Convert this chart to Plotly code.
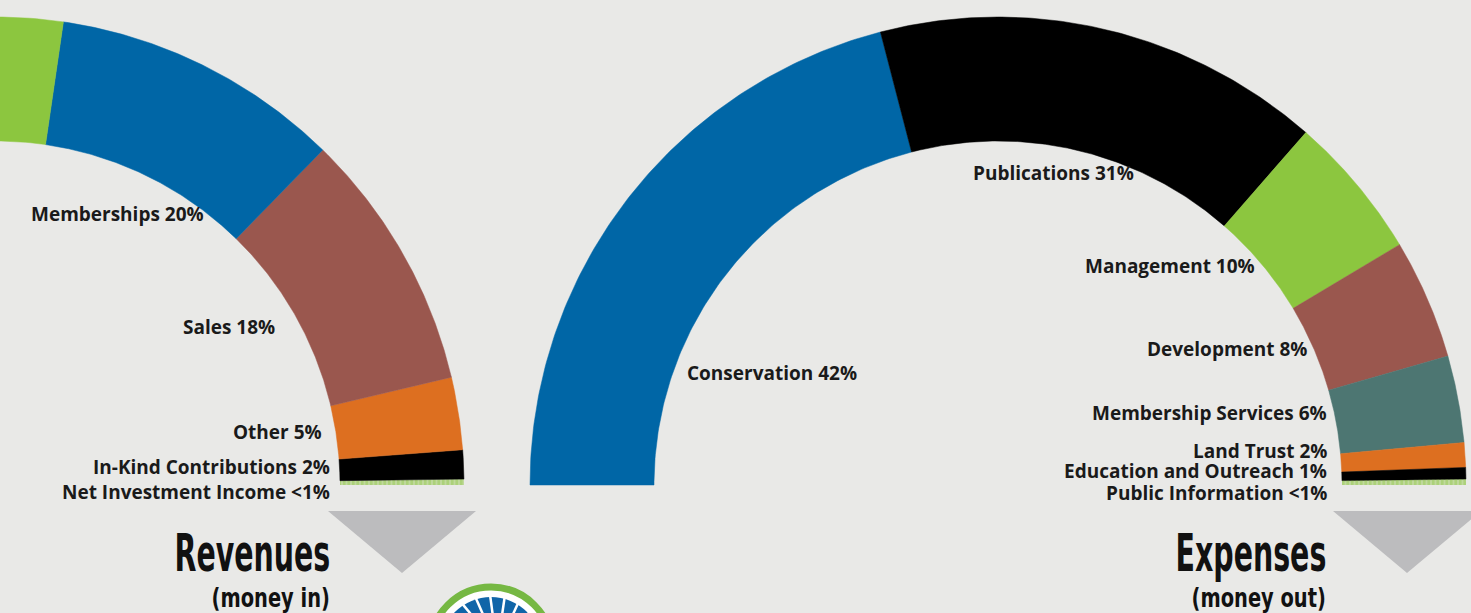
import numpy as np
import plotly.graph_objects as go

# ---------------- data ----------------
rev_categories = ["Net Investment Income", "In-Kind Contributions", "Other", "Sales", "Memberships", "Contributions & Grants"]
rev_values = [0.4, 2, 5, 18, 20, 54.6]
rev_labels = ["Net Investment Income <1%", "In-Kind Contributions 2%", "Other 5%", "Sales 18%", "Memberships 20%", ""]

exp_categories = ["Conservation", "Publications", "Management", "Development", "Membership Services",
                  "Land Trust", "Education and Outreach", "Public Information"]
exp_values = [42, 31, 10, 8.3, 6, 1.7, 0.8, 0.4]
exp_labels = ["Conservation 42%", "Publications 31%", "Management 10%", "Development 8%",
              "Membership Services 6%", "Land Trust 2%", "Education and Outreach 1%", "Public Information <1%"]

# ---------------- styles ----------------
rev_colors = ["#8cc63f", "#000000", "#dd6f20", "#9a574e", "#0066a6", "#8cc63f"]
rev_hatched = [True, False, False, False, False, False]
exp_colors = ["#0066a6", "#000000", "#8cc63f", "#9a574e", "#4d7672", "#dd6f20", "#000000", "#8cc63f"]
exp_hatched = [False, False, False, False, False, False, False, True]

# ---------------- geometry ----------------
W, H = 1471, 613
CY = 485
R_OUT, R_IN = 468, 344
REV_CX = -4
EXP_CX = 998

rev_label_pos = [(331, 492), (331, 467), (323, 432), (276, 327), (205, 214), None]
exp_label_pos = [(858, 373), (1135, 173), (1256, 266), (1308, 349), (1328, 413),
                 (1328, 451), (1328, 471), (1328, 493)]

fig = go.Figure()


def wedge(cx, a0, a1):
    t = np.radians(np.linspace(a0, a1, 120))
    xo = cx + R_OUT * np.cos(t)
    yo = CY - R_OUT * np.sin(t)
    xi = cx + R_IN * np.cos(t[::-1])
    yi = CY - R_IN * np.sin(t[::-1])
    return np.concatenate([xo, xi, xo[:1]]), np.concatenate([yo, yi, yo[:1]])


def add_donut(cx, values, colors, hatched, names, start, direction):
    total = sum(values)
    a = start
    for v, c, hz, n in zip(values, colors, hatched, names):
        span = v / total * 180.0
        a_next = a + direction * span
        xs, ys = wedge(cx, a, a_next)
        kw = dict(x=xs, y=ys, mode="lines", fill="toself", name=n, hoverinfo="name",
                  showlegend=False, line=dict(width=0 if hz else 0.5, color=c))
        if hz:
            kw["fillcolor"] = "rgba(0,0,0,0)"
            kw["fillpattern"] = dict(shape="|", fgcolor=c, bgcolor="rgba(140,198,63,0.3)",
                                     size=4.5, solidity=0.75)
        else:
            kw["fillcolor"] = c
        fig.add_trace(go.Scatter(**kw))
        a = a_next


# revenues: from right end (0 deg) going counter-clockwise
add_donut(REV_CX, rev_values, rev_colors, rev_hatched, rev_categories, 0.0, +1)
# expenses: from left end (180 deg) going clockwise
add_donut(EXP_CX, exp_values, exp_colors, exp_hatched, exp_categories, 180.0, -1)

label_font = dict(family="Open Sans", size=19, color="#1a1a1a")
annotations = []
for txt, pos in list(zip(rev_labels, rev_label_pos)) + list(zip(exp_labels, exp_label_pos)):
    if not txt or pos is None:
        continue
    annotations.append(dict(x=pos[0], y=pos[1], xref="x", yref="y", text="<b>%s</b>" % txt,
                            showarrow=False, xanchor="right", yanchor="middle", font=label_font,
                            borderpad=0))

cond = "DejaVu Sans Condensed, Liberation Sans Narrow, Roboto, sans-serif"
title_font = dict(family=cond, size=51, color="#111111")
sub_font = dict(family=cond, size=27, color="#111111")
for (tx, ty, txt, f) in [(332, 553, "Revenues", title_font), (332, 597, "(money in)", sub_font),
                         (1328, 553, "Expenses", title_font), (1328, 597, "(money out)", sub_font)]:
    annotations.append(dict(x=tx, y=ty, xref="x", yref="y", text="<b>%s</b>" % txt, showarrow=False,
                            xanchor="right", yanchor="middle", font=f))

shapes = []
# grey down arrows
for (x0, x1) in [(328, 476), (1333, 1481)]:
    xm = (x0 + x1) / 2
    shapes.append(dict(type="path", path="M %s,511 L %s,511 L %s,573 Z" % (x0, x1, xm),
                       xref="x", yref="y", fillcolor="#bcbcbe", line=dict(width=0)))

# logo (partially visible at bottom)
LX, LY = 491, 648
shapes.append(dict(type="circle", xref="x", yref="y", x0=LX - 61, x1=LX + 61, y0=LY - 61, y1=LY + 61,
                   fillcolor="#ffffff", line=dict(color="#76b843", width=7)))
shapes.append(dict(type="circle", xref="x", yref="y", x0=LX - 51, x1=LX + 51, y0=LY - 51, y1=LY + 51,
                   fillcolor="#1065a8", line=dict(width=0)))
shapes.append(dict(type="circle", xref="x", yref="y", x0=LX - 26, x1=LX + 26, y0=LY - 26, y1=LY + 26,
                   fillcolor="#ffffff", line=dict(width=0)))
for ang in np.arange(20, 170, 16):
    t = np.radians(ang)
    shapes.append(dict(type="line", xref="x", yref="y",
                       x0=LX + 26 * np.cos(t), y0=LY - 26 * np.sin(t),
                       x1=LX + 52 * np.cos(t + 0.12), y1=LY - 52 * np.sin(t + 0.12),
                       line=dict(color="#ffffff", width=2.5)))

fig.update_layout(
    width=W, height=H, margin=dict(l=0, r=0, t=0, b=0),
    paper_bgcolor="#e9e9e7", plot_bgcolor="#e9e9e7",
    xaxis=dict(range=[0, W], visible=False, fixedrange=True),
    yaxis=dict(range=[H, 0], visible=False, fixedrange=True),
    annotations=annotations, shapes=shapes, showlegend=False,
)

post = """
document.body.style.margin='0';
document.body.style.background='#e9e9e7';
var gd = document.getElementById('{plot_id}');
var squeeze = {'Revenues': 0.62, 'Expenses': 0.62, '(money in)': 0.80, '(money out)': 0.80};
function fixTitles() {
  var nodes = gd.querySelectorAll('text.annotation-text');
  nodes.forEach(function (t) {
    var s = squeeze[t.textContent];
    if (!s) return;
    var b = t.getBBox();
    var xr = b.x + b.width;
    t.setAttribute('transform', 'translate(' + xr + ',0) scale(' + s + ',1) translate(' + (-xr) + ',0)');
  });
}
setTimeout(fixTitles, 0);
gd.on && gd.on('plotly_afterplot', fixTitles);
"""

fig.write_html("out.html", config={"displayModeBar": False}, post_script=post)
